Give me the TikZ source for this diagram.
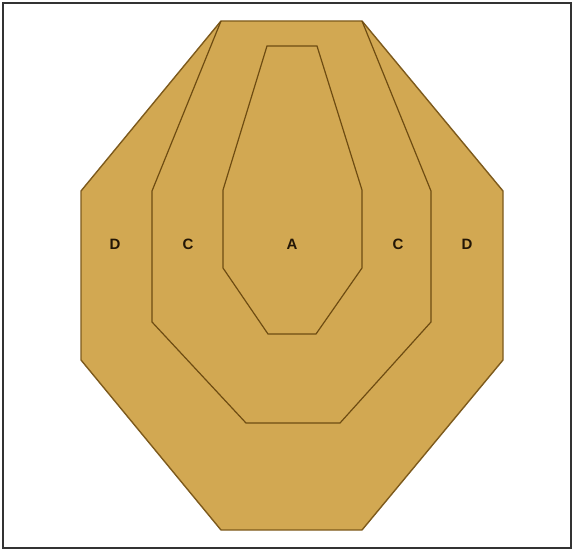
\documentclass[tikz,border=0pt]{standalone}
\usepackage{fontspec}
\setmainfont{Liberation Sans}
\definecolor{targetfill}{RGB}{210,168,82}
\definecolor{targetline}{RGB}{110,76,18}
\definecolor{labelcol}{RGB}{35,22,6}
\begin{document}
\begin{tikzpicture}[x=1pt,y=-1pt,
  zone/.style={draw=targetline,line width=1.2pt,line join=miter},
  outer/.style={fill=targetfill,draw=targetline!85!targetfill,line width=1.4pt},
  lbl/.style={text=labelcol,font=\fontsize{15}{16}\selectfont\bfseries,inner sep=0pt}]
\useasboundingbox (0,0) rectangle (574,551);
\fill[white] (0,0) rectangle (574,551);
\draw[black!80,line width=1.2pt] (3,3) rectangle (571,548);
% outer octagon
\draw[outer] (221,21) -- (362,21) -- (503,191) -- (503,360) -- (362,530) -- (221,530) -- (81,360) -- (81,191) -- cycle;
% C zone
\draw[zone] (221,21) -- (152,191) -- (152,322) -- (246,423) -- (340,423) -- (431,322) -- (431,191) -- (362,21);
% A zone
\draw[zone] (267,46) -- (317,46) -- (362,190) -- (362,268) -- (316,334) -- (268,334) -- (223,268) -- (223,190) -- cycle;
% labels
\node[lbl] (d1) at (115,244) {D};
\node[lbl] (c1) at (188,244) {C};
\node[lbl] (a) at (292,244) {A};
\node[lbl] (c2) at (398,244) {C};
\node[lbl] (d2) at (467,244) {D};
\end{tikzpicture}
\end{document}
